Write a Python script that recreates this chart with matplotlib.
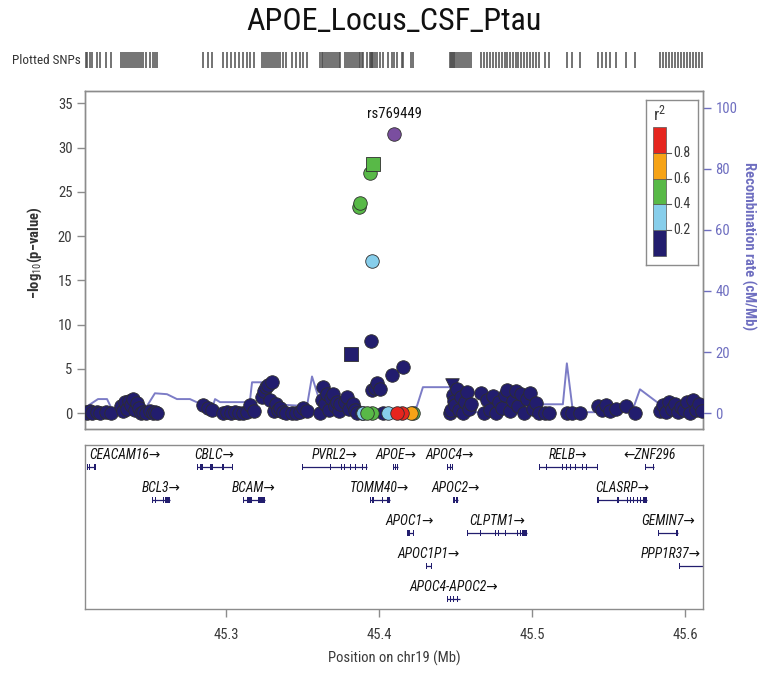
import matplotlib
matplotlib.use("Agg")
import matplotlib.pyplot as plt
from matplotlib import font_manager as fm
from matplotlib.patches import Rectangle

# ---------------------------------------------------------------- fonts
_available = {f.name for f in fm.fontManager.ttflist}
BASE = next((f for f in ["Liberation Sans Narrow", "Arial Narrow", "Roboto Condensed",
                         "Liberation Sans"] if f in _available), "DejaVu Sans")
plt.rcParams["font.family"] = [BASE, "DejaVu Sans"]
plt.rcParams["mathtext.fontset"] = "custom"
plt.rcParams["mathtext.rm"] = BASE
plt.rcParams["mathtext.it"] = BASE + ":italic"

# ---------------------------------------------------------------- data
TITLE = "APOE_Locus_CSF_Ptau"
CHROM = "chr19"

lead_name = "rs769449"
lead_pos, lead_logp = 45.4100, 31.5

# SNPs with r2 >= 0.2 to the lead variant
ld_pos = [45.3960, 45.3941, 45.3875, 45.3869, 45.3954, 45.3893, 45.3921,
          45.3957, 45.4058, 45.4117, 45.4150, 45.4209, 45.4225]
ld_logp = [28.1, 27.1, 23.7, 23.3, 17.2, 0.0, 0.0, 0.0, 0.0, 0.0, 0.0, 0.0, 0.0]
ld_r2 = [0.52, 0.47, 0.45, 0.44, 0.31, 0.28, 0.46, 0.43, 0.25, 0.86, 0.83, 0.71, 0.41]

# SNPs with r2 < 0.2
bg_pos = [
    45.2085, 45.2091, 45.2111, 45.2124, 45.2156, 45.2176, 45.2215, 45.2248,
    45.2313, 45.2326, 45.2339, 45.2353, 45.2366, 45.2379, 45.2392, 45.2405,
    45.2418, 45.2431, 45.2444, 45.2457, 45.2477, 45.2503, 45.2522, 45.2535, 45.2549,
    45.2849, 45.2882, 45.2908,
    45.2980, 45.3006, 45.3032, 45.3058, 45.3085, 45.3111, 45.3137, 45.3156, 45.3183,
    45.3235, 45.3248, 45.3261, 45.3274, 45.3287, 45.3300, 45.3313, 45.3326,
    45.3339, 45.3353, 45.3372, 45.3392,
    45.3431, 45.3457, 45.3483, 45.3503, 45.3529,
    45.3614, 45.3627, 45.3634, 45.3647, 45.3660, 45.3673, 45.3686, 45.3699,
    45.3712, 45.3725, 45.3738, 45.3745,
    45.3777, 45.3790, 45.3803, 45.3817, 45.3830, 45.3843, 45.3856,
    45.3888, 45.3947, 45.3954, 45.3973, 45.3986, 45.4006, 45.4026, 45.4085, 45.4156,
    45.4464, 45.4470, 45.4477, 45.4483, 45.4490, 45.4496, 45.4509, 45.4522,
    45.4535, 45.4548, 45.4561, 45.4575, 45.4588, 45.4601,
    45.4666, 45.4686, 45.4705, 45.4725, 45.4745, 45.4764, 45.4784, 45.4804,
    45.4823, 45.4836, 45.4856, 45.4875, 45.4895, 45.4908, 45.4928, 45.4947,
    45.4967, 45.4986, 45.5006, 45.5026, 45.5045, 45.5085, 45.5111,
    45.5228, 45.5261, 45.5313,
    45.5431, 45.5457, 45.5483, 45.5509, 45.5548, 45.5614, 45.5673,
    45.5836, 45.5856, 45.5875, 45.5895, 45.5915, 45.5934, 45.5954, 45.5974,
    45.5993, 45.6013, 45.6032, 45.6052, 45.6071, 45.6091, 45.6111,
]
bg_logp = [
    0.1, 0.0, 0.2, 0.0, 0.1, 0.0, 0.1, 0.0,
    0.8, 0.2, 1.2, 0.5, 1.4, 0.9, 1.6, 0.3,
    1.1, 0.6, 0.0, 0.1, 0.0, 0.2, 0.0, 0.1, 0.0,
    0.9, 0.6, 0.3,
    0.0, 0.1, 0.0, 0.1, 0.0, 0.0, 0.1, 0.9, 0.2,
    1.8, 2.5, 2.9, 3.2, 1.5, 3.5, 0.2, 1.0,
    0.3, 0.6, 0.1, 0.0,
    0.0, 0.0, 0.1, 0.6, 0.2,
    0.0, 1.5, 2.9, 1.0, 2.1, 0.4, 1.7, 2.2,
    0.8, 1.3, 0.2, 1.0,
    1.2, 1.8, 0.5, 6.7, 1.0, 0.3, 0.0,
    0.0, 8.1, 2.6, 2.8, 3.4, 2.7, 0.0, 4.3, 5.2,
    0.0, 0.3, 3.2, 2.0, 1.4, 0.9, 2.7, 0.3,
    1.8, 0.0, 1.2, 2.4, 0.5, 1.0,
    2.3, 0.0, 1.5, 0.4, 1.9, 0.0, 1.2, 0.6,
    2.0, 2.6, 0.2, 1.4, 2.5, 0.8, 2.2, 0.0,
    1.6, 2.3, 0.5, 1.1, 0.0, 0.0, 0.0,
    0.0, 0.0, 0.0,
    0.8, 0.3, 0.9, 0.2, 0.5, 0.8, 0.0,
    0.2, 0.9, 0.1, 1.3, 0.5, 1.0, 0.1, 0.7,
    0.3, 1.2, 0.0, 1.5, 0.4, 1.0, 0.2,
]
bg_r2 = 0.1

# annotated variants drawn with other symbols
square_pos = [45.3817, 45.3960]
triangle_pos = [45.4477]

# recombination rate (cM/Mb)
recomb_pos = [45.2085, 45.2163, 45.2222, 45.2254, 45.2483, 45.2535, 45.2614, 45.2679,
              45.2764, 45.2908, 45.2928, 45.2961, 45.3137, 45.3150, 45.3170, 45.3248,
              45.3274, 45.3529, 45.3562, 45.3614, 45.3856, 45.3895, 45.4222, 45.4248,
              45.4287, 45.4464, 45.4477, 45.4594, 45.4875, 45.4902, 45.5202, 45.5228,
              45.5268, 45.5425, 45.5660, 45.5706, 45.5836, 45.6117]
recomb_rate = [2.0, 4.6, 4.6, 1.3, 2.3, 6.5, 6.2, 4.6,
               4.6, 1.3, 4.6, 3.6, 3.6, 1.3, 10.1, 10.1,
               3.0, 2.3, 12.0, 3.6, 3.6, 1.3, 1.3, 2.3,
               8.5, 8.5, 3.6, 0.3, 0.3, 2.9, 2.9, 16.3,
               0.3, 0.3, 1.3, 7.8, 2.9, 2.9]

# genes
gene_names = ["CEACAM16", "CBLC", "PVRL2", "APOE", "APOC4", "RELB", "ZNF296",
              "BCL3", "BCAM", "TOMM40", "APOC2", "CLASRP",
              "APOC1", "CLPTM1", "GEMIN7",
              "APOC1P1", "PPP1R37",
              "APOC4-APOC2"]
gene_start = [45.2091, 45.2810, 45.3496, 45.4091, 45.4444, 45.5045, 45.5738,
              45.2516, 45.3111, 45.3941, 45.4483, 45.5425,
              45.4183, 45.4575, 45.5823,
              45.4307, 45.5960,
              45.4444]
gene_end = [45.2143, 45.3039, 45.3921, 45.4124, 45.4477, 45.5425, 45.5797,
            45.2634, 45.3255, 45.4071, 45.4516, 45.5751,
            45.4222, 45.4967, 45.5954,
            45.4340, 45.6400,
            45.4529]
gene_strand = ["+", "+", "+", "+", "+", "+", "-",
               "+", "+", "+", "+", "+",
               "+", "+", "+",
               "+", "+",
               "+"]
gene_row = [0, 0, 0, 0, 0, 0, 0,
            1, 1, 1, 1, 1,
            2, 2, 2,
            3, 3,
            4]
gene_exons = [
    [(45.2091, 45.2094), (45.2104, 45.2107), (45.2140, 45.2143)],
    [(45.2810, 45.2813), (45.2830, 45.2849), (45.2895, 45.2915), (45.2973, 45.2986), (45.3036, 45.3039)],
    [(45.3496, 45.3499), (45.3679, 45.3683), (45.3751, 45.3754), (45.3768, 45.3771),
     (45.3810, 45.3813), (45.3843, 45.3846), (45.3888, 45.3892), (45.3915, 45.3921)],
    [(45.4091, 45.4096), (45.4104, 45.4110), (45.4116, 45.4124)],
    [(45.4444, 45.4447), (45.4462, 45.4465), (45.4474, 45.4477)],
    [(45.5045, 45.5048), (45.5091, 45.5094), (45.5196, 45.5199), (45.5222, 45.5225),
     (45.5248, 45.5251), (45.5281, 45.5284), (45.5326, 45.5330), (45.5350, 45.5356), (45.5422, 45.5425)],
    [(45.5738, 45.5742), (45.5790, 45.5797)],
    [(45.2516, 45.2519), (45.2535, 45.2538), (45.2588, 45.2591), (45.2601, 45.2634)],
    [(45.3111, 45.3114), (45.3137, 45.3170), (45.3209, 45.3255)],
    [(45.3941, 45.3944), (45.3951, 45.3954), (45.3960, 45.3963), (45.4019, 45.4022), (45.4052, 45.4071)],
    [(45.4483, 45.4496), (45.4506, 45.4516)],
    [(45.5425, 45.5428), (45.5431, 45.5434), (45.5555, 45.5568), (45.5620, 45.5623), (45.5640, 45.5643),
     (45.5660, 45.5663), (45.5686, 45.5689), (45.5706, 45.5709), (45.5725, 45.5751)],
    [(45.4183, 45.4186), (45.4192, 45.4195), (45.4219, 45.4222)],
    [(45.4575, 45.4578), (45.4660, 45.4663), (45.4758, 45.4761), (45.4777, 45.4780),
     (45.4823, 45.4826), (45.4902, 45.4905), (45.4921, 45.4924), (45.4934, 45.4967)],
    [(45.5823, 45.5826), (45.5941, 45.5954)],
    [(45.4307, 45.4310), (45.4337, 45.4340)],
    [(45.5960, 45.5963)],
    [(45.4444, 45.4447), (45.4462, 45.4465), (45.4483, 45.4490), (45.4510, 45.4516)],
]

x_ticks = [45.3, 45.4, 45.5, 45.6]
logp_ticks = [0, 5, 10, 15, 20, 25, 30, 35]
recomb_ticks = [0, 20, 40, 60, 80, 100]
r2_breaks = [0.0, 0.2, 0.4, 0.6, 0.8, 1.0]
r2_labels = ["0.2", "0.4", "0.6", "0.8"]

# ---------------------------------------------------------------- styling
R2_COLORS = ["#221D6E", "#87CEEB", "#58B947", "#F6A316", "#E6251E"]
LEAD_COLOR = "#7A4E9F"
RECOMB_COLOR = "#6E6EC0"
SPINE = "#8C8C8C"
TEXT = "#3A3A3A"
GENE_COLOR = "#221D6E"
MARKER_SIZE = 95

XLIM = (45.2078, 45.6118)
W, H = 758, 679


def r2_color(r):
    for i in range(5):
        if r < r2_breaks[i + 1] or i == 4:
            return R2_COLORS[i]


def shape_of(p):
    if any(abs(p - s) < 1e-6 for s in square_pos):
        return "s"
    if any(abs(p - s) < 1e-6 for s in triangle_pos):
        return "v"
    return "o"


fig = plt.figure(figsize=(W / 100, H / 100), dpi=100)
fig.patch.set_facecolor("white")

ax = fig.add_axes([85 / W, 1 - 429 / H, 618 / W, 338 / H])
ax_rec = ax.twinx()
ax_gene = fig.add_axes([85 / W, 1 - 609 / H, 618 / W, 164 / H])
ax_track = fig.add_axes([85 / W, 1 - 68 / H, 618 / W, 16 / H])
ax_leg = fig.add_axes([646 / W, 1 - 265 / H, 52 / W, 165 / H])

# ---- title and SNP track
fig.text(394 / W, 1 - 21 / H, TITLE, ha="center", va="center", fontsize=23, color="#111111")
fig.text(12 / W, 1 - 60 / H, "Plotted SNPs", ha="left", va="center", fontsize=9.5, color="#333333")
all_pos = bg_pos + ld_pos + [lead_pos]
ax_track.vlines(all_pos, 0, 1, color="#4D4D4D", lw=1.1)
ax_track.set_xlim(*XLIM)
ax_track.set_ylim(0, 1)
ax_track.axis("off")

# ---- recombination rate (behind the association points)
ax.set_zorder(ax_rec.get_zorder() + 1)
ax.patch.set_visible(False)
ax_rec.plot(recomb_pos, recomb_rate, color=RECOMB_COLOR, lw=1.4, alpha=0.9, zorder=1)
ax_rec.set_ylim(-5.2, 105.5)
ax_rec.set_yticks(recomb_ticks)
ax_rec.tick_params(axis="y", colors=RECOMB_COLOR, labelcolor=RECOMB_COLOR, length=6,
                   width=1, labelsize=10.5, pad=3)
ax_rec.set_ylabel("Recombination rate (cM/Mb)", color=RECOMB_COLOR, fontsize=10.5,
                  fontweight="bold", rotation=270)
ax_rec.yaxis.set_label_coords(1.085, 0.54)

# ---- association points
points = [(p, v, bg_r2) for p, v in zip(bg_pos, bg_logp)]
points += list(zip(ld_pos, ld_logp, ld_r2))
points.sort(key=lambda t: t[2])
for p, v, r in points:
    ax.scatter([p], [v], s=MARKER_SIZE, marker=shape_of(p), c=r2_color(r),
               edgecolors="#2E2E2E", linewidths=0.6, zorder=3)
ax.scatter([lead_pos], [lead_logp], s=MARKER_SIZE, marker="o", c=LEAD_COLOR,
           edgecolors="#2E2E2E", linewidths=0.6, zorder=4)
ax.text(lead_pos, lead_logp + 2.3, lead_name, ha="center", va="center",
        fontsize=10.5, color="#111111")

ax.set_xlim(*XLIM)
ax.set_ylim(-1.8, 36.4)
ax.set_yticks(logp_ticks)
ax.set_xticks([])
ax.tick_params(axis="y", colors=SPINE, labelcolor=TEXT, length=6, width=1,
               labelsize=10.5, pad=3)
ax.set_ylabel("\u2212log$_{10}$(p\u2212value)", fontsize=10.5, color="#333333",
              fontweight="bold")
ax.yaxis.set_label_coords(-0.066, 0.52)
for a in (ax, ax_rec):
    for s in a.spines.values():
        s.set_color(SPINE)
        s.set_linewidth(1)

# ---- r2 legend
ax_leg.set_xlim(0, 52)
ax_leg.set_ylim(165, 0)
ax_leg.set_xticks([])
ax_leg.set_yticks([])
for s in ax_leg.spines.values():
    s.set_color(SPINE)
    s.set_linewidth(1)
blk_top, blk_bot = 27, 156
for i in range(5):
    y0 = blk_bot - r2_breaks[i] * (blk_bot - blk_top)
    y1 = blk_bot - r2_breaks[i + 1] * (blk_bot - blk_top)
    ax_leg.add_patch(Rectangle((7, y1), 13, y0 - y1, facecolor=R2_COLORS[i],
                               edgecolor="#555555", lw=0.5))
for lab in r2_labels:
    yy = blk_bot - float(lab) * (blk_bot - blk_top)
    ax_leg.plot([20, 25], [yy, yy], color="#555555", lw=0.8)
    ax_leg.text(27, yy, lab, ha="left", va="center", fontsize=10, color=TEXT)
ax_leg.text(13.5, 13, "r$^2$", ha="center", va="center", fontsize=12.5, color=TEXT)

# ---- gene panel
ax_gene.set_xlim(*XLIM)
ax_gene.set_ylim(164, 0)
ax_gene.set_yticks([])
ax_gene.set_xticks(x_ticks)
ax_gene.set_xticklabels([f"{t:.1f}" for t in x_ticks])
ax_gene.tick_params(axis="x", colors=SPINE, labelcolor=TEXT, length=6, width=1,
                    labelsize=10.5, pad=8)
ax_gene.set_xlabel(f"Position on {CHROM} (Mb)", fontsize=10.5, color=TEXT, labelpad=6)
for s in ax_gene.spines.values():
    s.set_color(SPINE)
    s.set_linewidth(1)

min_w = 0.0009
labels = []
for name, gs, ge, st, row, exons in zip(gene_names, gene_start, gene_end, gene_strand,
                                        gene_row, gene_exons):
    y = 22 + 33 * row
    ax_gene.plot([gs, ge], [y, y], color=GENE_COLOR, lw=0.9, solid_capstyle="butt")
    for es, ee in exons:
        w = max(ee - es, min_w)
        ax_gene.add_patch(Rectangle((es, y - 2.6), w, 5.2, facecolor=GENE_COLOR,
                                    edgecolor="none"))
    text = f"{name}\u2192" if st == "+" else f"\u2190{name}"
    cx = (gs + min(ge, XLIM[1])) / 2
    t = ax_gene.text(cx, y - 12, text, ha="center", va="center", fontsize=9.8,
                     style="italic", color="#111111")
    labels.append(t)

# keep gene labels inside the panel
fig.canvas.draw()
renderer = fig.canvas.get_renderer()
abox = ax_gene.get_window_extent(renderer)
mb_per_px = (XLIM[1] - XLIM[0]) / abox.width
for t in labels:
    bb = t.get_window_extent(renderer)
    shift = 0.0
    if bb.x0 < abox.x0 + 4:
        shift = (abox.x0 + 4 - bb.x0)
    elif bb.x1 > abox.x1 - 2:
        shift = (abox.x1 - 2 - bb.x1)
    if shift:
        x, y = t.get_position()
        t.set_position((x + shift * mb_per_px, y))

fig.savefig("out.png", dpi=100, facecolor="white")
